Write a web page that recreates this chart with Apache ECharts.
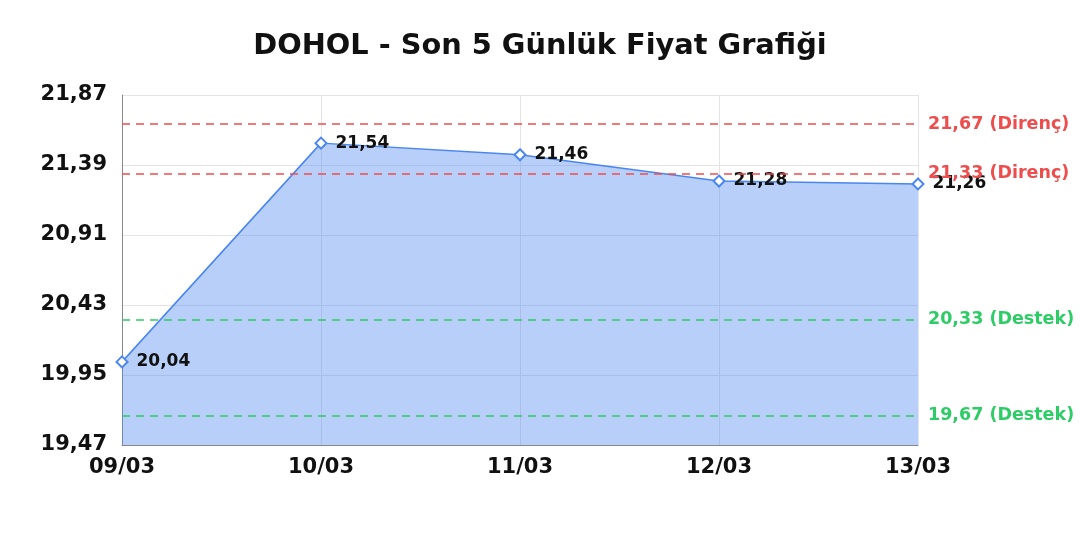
<!DOCTYPE html>
<html><head><meta charset="utf-8">
<script src="https://cdn.jsdelivr.net/npm/echarts@6/dist/echarts.min.js"></script>
<style>html,body{margin:0;padding:0;background:#fff}#c{width:1080px;height:540px}</style>
</head><body><div id="c"></div>
<script>
const categories = ['09/03','10/03','11/03','12/03','13/03'];
const prices = [20.04, 21.54, 21.46, 21.28, 21.26];
const resistance = [21.67, 21.33];
const support = [20.33, 19.67];
const yTicks = {min: 19.47, max: 21.87, interval: 0.48};
const fmt = v => v.toFixed(2).replace('.', ',');
const font = "'DejaVu Sans', sans-serif";
const chart = echarts.init(document.getElementById('c'));
const markData = [];
resistance.forEach(v => markData.push({yAxis: v, lineStyle:{color:'#ee4d4d'}, label:{color:'#ee4d4d', formatter: fmt(v) + ' (Direnç)'}}));
support.forEach(v => markData.push({yAxis: v, lineStyle:{color:'#2ecc66'}, label:{color:'#2ecc66', formatter: fmt(v) + ' (Destek)'}}));
chart.setOption({
  animation: false,
  title: {text: 'DOHOL - Son 5 Günlük Fiyat Grafiği', left: 'center', top: 27,
    textStyle: {fontFamily: font, fontSize: 28.8, fontWeight: 'bold', color: '#111'}},
  grid: {left: 122, right: 162, top: 95, bottom: 95},
  xAxis: {type: 'category', data: categories, boundaryGap: false,
    axisLine: {lineStyle: {color: '#888'}}, axisTick: {show: false},
    splitLine: {show: true, lineStyle: {color: '#e4e4e4'}},
    axisLabel: {fontFamily: font, fontSize: 21, fontWeight: 'bold', color: '#111', margin: 12}},
  yAxis: {type: 'value', min: yTicks.min, max: yTicks.max, interval: yTicks.interval,
    axisLine: {show: true, lineStyle: {color: '#888'}}, axisTick: {show: false},
    splitLine: {lineStyle: {color: '#e4e4e4'}},
    axisLabel: {fontFamily: font, fontSize: 21, fontWeight: 'bold', color: '#111', margin: 15, formatter: v => fmt(v)}},
  series: [{
    type: 'line', data: prices, symbol: 'diamond', symbolSize: 11, z: 2,
    itemStyle: {color: '#fff', borderColor: '#4a86f0', borderWidth: 2},
    lineStyle: {color: '#4a86f0', width: 1.5},
    areaStyle: {color: 'rgba(74,134,240,0.4)', opacity: 1},
    label: {show: true, position: 'right', distance: 8, fontFamily: font, fontSize: 17, fontWeight: 'bold', color: '#111', formatter: p => fmt(p.value)}
  }, {
    type: 'line', data: [], z: 5,
    markLine: {silent: true, symbol: 'none', animation: false, z: 5,
      lineStyle: {type: [8, 6], width: 1.5},
      label: {position: 'end', fontFamily: font, fontSize: 17.5, fontWeight: 'bold', distance: 10},
      data: markData}
  }]
});
</script></body></html>
